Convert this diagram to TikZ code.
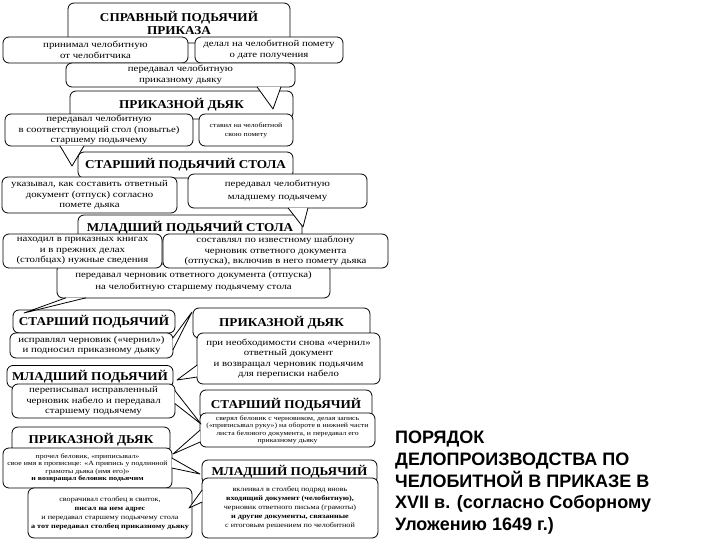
\documentclass[tikz,border=0pt]{standalone}
\usepackage{fontspec}
\setmainfont{Liberation Serif}
\newfontfamily\bodyf{Liberation Serif}[FakeStretch=1.2]
\newfontfamily\titlef{Liberation Serif}[FakeStretch=1.1]
\newfontfamily\headf{Liberation Sans}
\newcommand\mkptr[3]{%
  \fill[white] (#1) -- (#3) -- (#2) -- cycle;
  \draw[ptrline] (#1) -- (#3) -- (#2);}
\tikzset{
  box/.style={draw=black, line width=0.8pt, rounded corners=6pt, fill=white, inner sep=0pt, align=center},
  ttl/.style={box, font=\titlef\bfseries\fontsize{12}{13.5}\selectfont},
  txt/.style={box, font=\bodyf\fontsize{9}{10.5}\selectfont},
  sml/.style={box, font=\bodyf\fontsize{6.5}{7.4}\selectfont},
  ptrline/.style={draw=black, line width=0.8pt, line join=round},
}
\begin{document}
\begin{tikzpicture}[x=1pt,y=-1pt]
\useasboundingbox (0,0) rectangle (720,540);
\fill[white] (0,0) rectangle (720,540);
% --- top chain
\node[ttl, minimum width=222, minimum height=40] (sprav) at (179,23) {СПРАВНЫЙ ПОДЬЯЧИЙ\\ПРИКАЗА};
\node[txt, minimum width=185, minimum height=26] (prinimal) at (95.5,50) {принимал челобитную\\от челобитчика};
\node[txt, minimum width=148, minimum height=26] (delal) at (269,50) {делал на челобитной помету\\о дате получения};
\node[txt, minimum width=229, minimum height=24] (peredal1) at (180.5,75) {передавал челобитную\\приказному дьяку};
\node[ttl, minimum width=223, minimum height=28] (prikaz1) at (181.5,105) {ПРИКАЗНОЙ ДЬЯК};
\coordinate (t1) at (273,109);
\mkptr{[xshift=76.5pt,yshift=0.6pt]peredal1.south}{[xshift=100.5pt,yshift=0.6pt]peredal1.south}{t1}
\node[txt, minimum width=188, minimum height=32] (peredal2) at (99,130) {передавал челобитную\\в соответствующий стол (повытье)\\старшему подьячему};
\node[box, font=\bodyf\fontsize{6.5}{9}\selectfont, minimum width=94, minimum height=32] (stavil) at (246,130) {ставил на челобитной\\свою помету};
\node[ttl, minimum width=215, minimum height=26] (starshstola) at (185.5,165) {СТАРШИЙ ПОДЬЯЧИЙ СТОЛА};
\coordinate (t2) at (72,166);
\mkptr{[xshift=-39pt,yshift=0.6pt]peredal2.south}{[xshift=-15pt,yshift=0.6pt]peredal2.south}{t2}
\node[txt, minimum width=175, minimum height=36] (ukaz) at (89.5,195) {указывал, как составить ответный\\документ (отпуск) согласно\\помете дьяка};
\node[txt, minimum width=179, minimum height=34, font=\bodyf\fontsize{9}{13}\selectfont] (permladsh) at (277.5,191) {передавал челобитную\\младшему подьячему};
\node[ttl, minimum width=224, minimum height=26] (mladshstola) at (190,228) {МЛАДШИЙ ПОДЬЯЧИЙ СТОЛА};
\coordinate (t3) at (303,227);
\mkptr{[xshift=10.5pt,yshift=0.6pt]permladsh.south}{[xshift=30.5pt,yshift=0.6pt]permladsh.south}{t3}
\node[txt, minimum width=273, minimum height=34, font=\bodyf\fontsize{9}{12}\selectfont] (chernovik) at (193.5,281) {передавал черновик ответного документа (отпуска)\\на челобитную старшему подьячему стола};
\node[txt, minimum width=159, minimum height=34] (nahodil) at (82.5,251) {находил в приказных книгах\\и в прежних делах\\(столбцах) нужные сведения};
\node[txt, minimum width=225, minimum height=34] (sostav) at (275.5,251) {составлял по известному шаблону\\черновик ответного документа\\(отпуска), включив в него помету дьяка};
% --- middle
\node[ttl, minimum width=162, minimum height=23] (starshleft) at (94,321.5) {СТАРШИЙ ПОДЬЯЧИЙ};
\coordinate (t4) at (24,313);
\mkptr{[xshift=-127.5pt,yshift=0.6pt]chernovik.south}{[xshift=-107.5pt,yshift=0.6pt]chernovik.south}{t4}
\node[ttl, minimum width=177, minimum height=30] (prikazright) at (281.5,323) {ПРИКАЗНОЙ ДЬЯК};
\node[txt, minimum width=163, minimum height=25] (ispravl) at (91.5,345.5) {исправлял черновик («чернил»)\\и подносил приказному дьяку};
\coordinate (t5) at (192,312);
\mkptr{[yshift=7.5pt,xshift=-0.6pt]ispravl.east}{[yshift=-4.5pt,xshift=-0.6pt]ispravl.east}{t5}
\node[txt, minimum width=183, minimum height=51] (prineobh) at (288.5,358.5) {при необходимости снова «чернил»\\ответный документ\\и возвращал черновик подьячим\\для переписки набело};
\node[ttl, minimum width=166, minimum height=22] (mladshleft) at (90,376.5) {МЛАДШИЙ ПОДЬЯЧИЙ};
\coordinate (t6) at (177,380);
\mkptr{[yshift=-6.5pt,xshift=0.6pt]prineobh.west}{[yshift=-18.5pt,xshift=0.6pt]prineobh.west}{t6}
\node[txt, minimum width=163, minimum height=34] (perepis) at (93.5,401) {переписывал исправленный\\черновик набело и передавал\\старшему подьячему};
\node[ttl, minimum width=172, minimum height=30] (starshright) at (286,405) {СТАРШИЙ ПОДЬЯЧИЙ};
\node[sml, minimum width=175, minimum height=34] (sveryal) at (287.5,430) {сверял беловик с черновиком, делая запись\\(«приписывал руку») на обороте в нижней части\\листа белового документа, и передавал его\\приказному дьяку};
\coordinate (t7) at (201,424);
\mkptr{[yshift=10.5pt,xshift=-0.6pt]perepis.east}{[yshift=-2.5pt,xshift=-0.6pt]perepis.east}{t7}
% --- bottom
\node[ttl, minimum width=158, minimum height=26] (prikazleft) at (91,440) {ПРИКАЗНОЙ ДЬЯК};
\node[sml, minimum width=169, minimum height=40] (prochel) at (87.5,468) {прочел беловик, «приписывал»\\свое имя в прописице: «А припись у подлинной\\грамоты дьяка (имя его)»\\\textbf{и возвращал беловик подьячим}};
\coordinate (t8) at (173,454);
\mkptr{[xshift=0.6pt]sveryal.west}{[yshift=-12pt,xshift=0.6pt]sveryal.west}{t8}
\node[ttl, minimum width=175, minimum height=24] (mladshright) at (289.5,472) {МЛАДШИЙ ПОДЬЯЧИЙ};
\coordinate (t9) at (200,474);
\mkptr{[yshift=10pt,xshift=-0.6pt]prochel.east}{[xshift=-0.6pt]prochel.east}{t9}
\node[box, font=\bodyf\fontsize{6.8}{9}\selectfont, minimum width=176, minimum height=60] (vkleival) at (290,508) {вклеивал в столбец подряд вновь\\\textbf{входящий документ (челобитную),}\\черновик ответного письма (грамоты)\\\textbf{и другие документы, связанные}\\с итоговым решением по челобитной};
\node[box, font=\bodyf\fontsize{6.8}{9}\selectfont, minimum width=164, minimum height=50] (podkl) at (110,513) {сворачивал столбец в свиток,\\\textbf{писал на нем адрес}\\и передавал старшему подьячему стола\\\textbf{а тот передавал столбец приказному дьяку}};
\coordinate (t10) at (189,508);
\mkptr{[yshift=18pt,xshift=0.6pt]vkleival.west}{[yshift=6pt,xshift=0.6pt]vkleival.west}{t10}
% --- heading
\node[anchor=north west, inner sep=0pt, align=left, font=\headf\bfseries\fontsize{18}{21.7}\selectfont] (heading) at (395,431) {ПОРЯДОК\\ДЕЛОПРОИЗВОДСТВА ПО\\ЧЕЛОБИТНОЙ В ПРИКАЗЕ В\\XVII в. (согласно Соборному\\Уложению 1649 г.)};
\end{tikzpicture}
\end{document}
